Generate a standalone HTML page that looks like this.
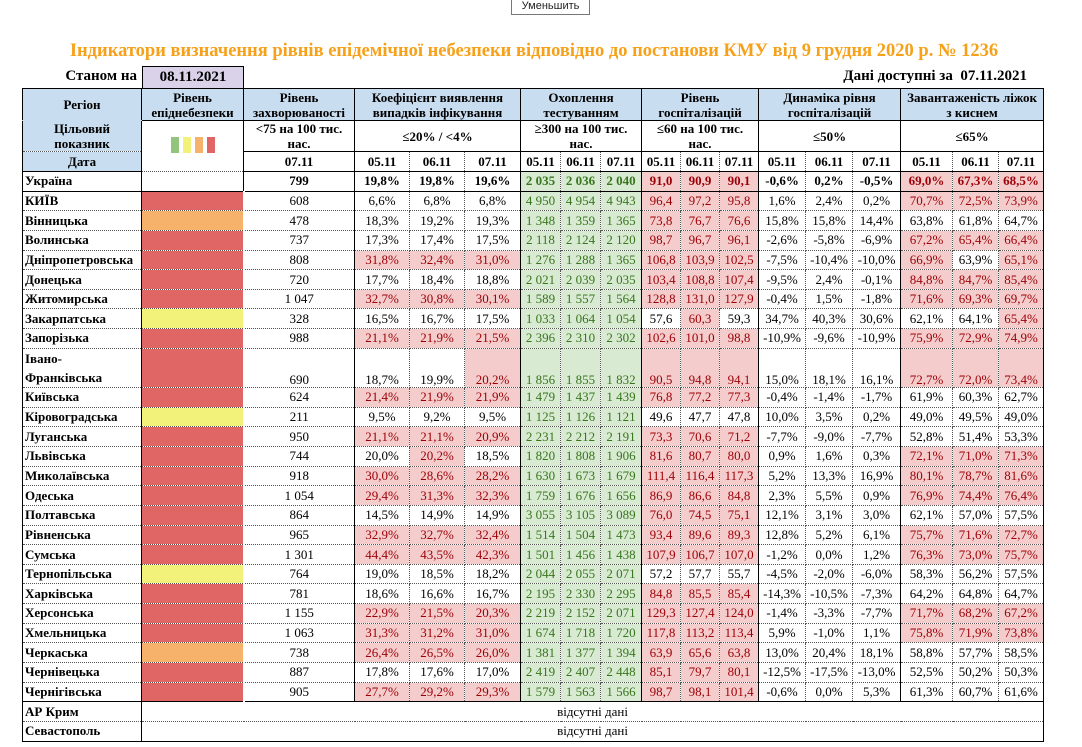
<!DOCTYPE html>
<html><head><meta charset="utf-8">
<style>
body{margin:0;width:1082px;height:747px;background:#fff;position:relative;overflow:hidden;font-family:"Liberation Serif","DejaVu Serif",serif;}
.btn{position:absolute;left:511px;top:-2px;width:77px;height:15px;border:1px solid #777;font:11px "Liberation Sans",sans-serif;text-align:center;line-height:14px;color:#222;background:#fff;}
.title{position:absolute;left:-7px;width:1082px;top:41px;text-align:center;color:#f7a11a;font-weight:bold;font-size:18.5px;}
.st{position:absolute;left:40px;top:68px;width:97px;text-align:right;font-weight:bold;font-size:15px;}
.dt{position:absolute;left:142px;top:66px;width:100px;height:21px;background:#d9d2e9;border:1px solid #000;border-bottom:none;text-align:center;font-weight:bold;font-size:15px;line-height:21px;}
.da{position:absolute;right:55px;top:68px;font-weight:bold;font-size:15px;}
table{position:absolute;left:22px;top:88px;border-collapse:collapse;table-layout:fixed;width:1021px;}
td{padding:0;text-align:center;font-size:13px;border:1px dotted #555;overflow:hidden;white-space:nowrap;line-height:14px;}
tr.d td{height:18.65px;}
td.h{background:#c9ddf0;font-weight:bold;font-size:13px;white-space:normal;line-height:15px;}
td.w{font-weight:bold;font-size:13px;white-space:normal;line-height:15px;}
td.n{text-align:left;font-weight:bold;font-size:13px;padding-left:2px;border-left:1px solid #000;border-right:1px solid #000;}
.L{border-left:1px solid #000!important;}
.R{border-right:1px solid #000!important;}
.T{border-top:1px solid #000!important;}
.B{border-bottom:1px solid #000!important;}
.NB{border-bottom:1px solid #c9ddf0!important;}
td.r{background:#f4cccc;color:#9c0006;}
td.g{background:#d9ead3;color:#38761d;}
td.lr{background:#e06666;border-left:1px solid #000;border-right:2px solid #fff;}
td.lo{background:#f6b26b;border-left:1px solid #000;border-right:2px solid #fff;}
td.ly{background:#f2f27a;border-left:1px solid #000;border-right:2px solid #fff;}
tr.u td{font-weight:bold;}
tr.iv td{vertical-align:bottom;}
.sw{display:inline-block;width:8px;height:16px;margin:0 2px;}
</style></head><body>
<div class="btn">Уменьшить</div>
<div class="title">Індикатори визначення рівнів епідемічної небезпеки відповідно до постанови КМУ від 9 грудня 2020 р. № 1236</div>
<div class="st">Станом на</div>
<div class="dt">08.11.2021</div>
<div class="da">Дані доступні за&nbsp; 07.11.2021</div>
<table>
<colgroup><col style="width:119px"><col style="width:102px"><col style="width:111px"><col style="width:55px"><col style="width:55px"><col style="width:56px"><col style="width:40px"><col style="width:40px"><col style="width:41px"><col style="width:39px"><col style="width:39px"><col style="width:39px"><col style="width:47px"><col style="width:47px"><col style="width:48px"><col style="width:52px"><col style="width:46px"><col style="width:45px"></colgroup>
<tr style="height:32px"><td class="h T L R NB">Регіон</td><td class="h T R">Рівень<br>епіднебезпеки</td><td class="h T R">Рівень<br>захворюваності</td><td class="h T R B" colspan="3">Коефіцієнт виявлення<br>випадків інфікування</td><td class="h T R B" colspan="3">Охоплення<br>тестуванням</td><td class="h T R B" colspan="3">Рівень<br>госпіталізацій</td><td class="h T R B" colspan="3">Динаміка рівня<br>госпіталізацій</td><td class="h T R B" colspan="3">Завантаженість ліжок<br>з киснем</td></tr>
<tr style="height:31px"><td class="h L R">Цільовий<br>показник</td><td class="R" rowspan="2" style="border-top:1px solid #000"><span class="sw" style="background:#93c47d"></span><span class="sw" style="background:#f2f27a"></span><span class="sw" style="background:#f6b26b"></span><span class="sw" style="background:#e06666"></span></td><td class="w R T">&lt;75 на 100 тис.<br>нас.</td><td class="w R B" colspan="3">≤20% / &lt;4%</td><td class="w R B" colspan="3">≥300 на 100 тис.<br>нас.</td><td class="w R B" colspan="3">≤60 на 100 тис.<br>нас.</td><td class="w R B" colspan="3">≤50%</td><td class="w R B" colspan="3">≤65%</td></tr>
<tr style="height:20px"><td class="h L R B">Дата</td><td class="w R B T">07.11</td><td class="w B L">05.11</td><td class="w B">06.11</td><td class="w B R">07.11</td><td class="w B">05.11</td><td class="w B">06.11</td><td class="w B R">07.11</td><td class="w B">05.11</td><td class="w B">06.11</td><td class="w B R">07.11</td><td class="w B">05.11</td><td class="w B">06.11</td><td class="w B R">07.11</td><td class="w B">05.11</td><td class="w B">06.11</td><td class="w B R">07.11</td></tr>
<tr class="d u"><td class="n B">Україна</td><td class="R B"></td><td class="R B">799</td><td class="B">19,8%</td><td class="B">19,8%</td><td class="R B">19,6%</td><td class="g B">2 035</td><td class="g B">2 036</td><td class="g R B">2 040</td><td class="r B">91,0</td><td class="r B">90,9</td><td class="r R B">90,1</td><td class="B">-0,6%</td><td class="B">0,2%</td><td class="R B">-0,5%</td><td class="r B">69,0%</td><td class="r B">67,3%</td><td class="r R B">68,5%</td></tr>
<tr class="d"><td class="n">КИЇВ</td><td class="lr"></td><td class="R">608</td><td>6,6%</td><td>6,8%</td><td class="R">6,8%</td><td class="g">4 950</td><td class="g">4 954</td><td class="g R">4 943</td><td class="r">96,4</td><td class="r">97,2</td><td class="r R">95,8</td><td>1,6%</td><td>2,4%</td><td class="R">0,2%</td><td class="r">70,7%</td><td class="r">72,5%</td><td class="r R">73,9%</td></tr>
<tr class="d"><td class="n">Вінницька</td><td class="lo"></td><td class="R">478</td><td>18,3%</td><td>19,2%</td><td class="R">19,3%</td><td class="g">1 348</td><td class="g">1 359</td><td class="g R">1 365</td><td class="r">73,8</td><td class="r">76,7</td><td class="r R">76,6</td><td>15,8%</td><td>15,8%</td><td class="R">14,4%</td><td>63,8%</td><td>61,8%</td><td class="R">64,7%</td></tr>
<tr class="d"><td class="n">Волинська</td><td class="lr"></td><td class="R">737</td><td>17,3%</td><td>17,4%</td><td class="R">17,5%</td><td class="g">2 118</td><td class="g">2 124</td><td class="g R">2 120</td><td class="r">98,7</td><td class="r">96,7</td><td class="r R">96,1</td><td>-2,6%</td><td>-5,8%</td><td class="R">-6,9%</td><td class="r">67,2%</td><td class="r">65,4%</td><td class="r R">66,4%</td></tr>
<tr class="d"><td class="n">Дніпропетровська</td><td class="lr"></td><td class="R">808</td><td class="r">31,8%</td><td class="r">32,4%</td><td class="r R">31,0%</td><td class="g">1 276</td><td class="g">1 288</td><td class="g R">1 365</td><td class="r">106,8</td><td class="r">103,9</td><td class="r R">102,5</td><td>-7,5%</td><td>-10,4%</td><td class="R">-10,0%</td><td class="r">66,9%</td><td>63,9%</td><td class="r R">65,1%</td></tr>
<tr class="d"><td class="n">Донецька</td><td class="lr"></td><td class="R">720</td><td>17,7%</td><td>18,4%</td><td class="R">18,8%</td><td class="g">2 021</td><td class="g">2 039</td><td class="g R">2 035</td><td class="r">103,4</td><td class="r">108,8</td><td class="r R">107,4</td><td>-9,5%</td><td>2,4%</td><td class="R">-0,1%</td><td class="r">84,8%</td><td class="r">84,7%</td><td class="r R">85,4%</td></tr>
<tr class="d"><td class="n">Житомирська</td><td class="lr"></td><td class="R">1 047</td><td class="r">32,7%</td><td class="r">30,8%</td><td class="r R">30,1%</td><td class="g">1 589</td><td class="g">1 557</td><td class="g R">1 564</td><td class="r">128,8</td><td class="r">131,0</td><td class="r R">127,9</td><td>-0,4%</td><td>1,5%</td><td class="R">-1,8%</td><td class="r">71,6%</td><td class="r">69,3%</td><td class="r R">69,7%</td></tr>
<tr class="d"><td class="n">Закарпатська</td><td class="ly"></td><td class="R">328</td><td>16,5%</td><td>16,7%</td><td class="R">17,5%</td><td class="g">1 033</td><td class="g">1 064</td><td class="g R">1 054</td><td>57,6</td><td class="r">60,3</td><td class="R">59,3</td><td>34,7%</td><td>40,3%</td><td class="R">30,6%</td><td>62,1%</td><td>64,1%</td><td class="r R">65,4%</td></tr>
<tr class="d"><td class="n">Запорізька</td><td class="lr"></td><td class="R">988</td><td class="r">21,1%</td><td class="r">21,9%</td><td class="r R">21,5%</td><td class="g">2 396</td><td class="g">2 310</td><td class="g R">2 302</td><td class="r">102,6</td><td class="r">101,0</td><td class="r R">98,8</td><td>-10,9%</td><td>-9,6%</td><td class="R">-10,9%</td><td class="r">75,9%</td><td class="r">72,9%</td><td class="r R">74,9%</td></tr>
<tr class="d iv" style="height:39.3px"><td class="n" style="line-height:19px">Івано-<br>Франківська</td><td class="lr"></td><td class="R">690</td><td>18,7%</td><td>19,9%</td><td class="r R">20,2%</td><td class="g">1 856</td><td class="g">1 855</td><td class="g R">1 832</td><td class="r">90,5</td><td class="r">94,8</td><td class="r R">94,1</td><td>15,0%</td><td>18,1%</td><td class="R">16,1%</td><td class="r">72,7%</td><td class="r">72,0%</td><td class="r R">73,4%</td></tr>
<tr class="d"><td class="n">Київська</td><td class="lr"></td><td class="R">624</td><td class="r">21,4%</td><td class="r">21,9%</td><td class="r R">21,9%</td><td class="g">1 479</td><td class="g">1 437</td><td class="g R">1 439</td><td class="r">76,8</td><td class="r">77,2</td><td class="r R">77,3</td><td>-0,4%</td><td>-1,4%</td><td class="R">-1,7%</td><td>61,9%</td><td>60,3%</td><td class="R">62,7%</td></tr>
<tr class="d"><td class="n">Кіровоградська</td><td class="ly"></td><td class="R">211</td><td>9,5%</td><td>9,2%</td><td class="R">9,5%</td><td class="g">1 125</td><td class="g">1 126</td><td class="g R">1 121</td><td>49,6</td><td>47,7</td><td class="R">47,8</td><td>10,0%</td><td>3,5%</td><td class="R">0,2%</td><td>49,0%</td><td>49,5%</td><td class="R">49,0%</td></tr>
<tr class="d"><td class="n">Луганська</td><td class="lr"></td><td class="R">950</td><td class="r">21,1%</td><td class="r">21,1%</td><td class="r R">20,9%</td><td class="g">2 231</td><td class="g">2 212</td><td class="g R">2 191</td><td class="r">73,3</td><td class="r">70,6</td><td class="r R">71,2</td><td>-7,7%</td><td>-9,0%</td><td class="R">-7,7%</td><td>52,8%</td><td>51,4%</td><td class="R">53,3%</td></tr>
<tr class="d"><td class="n">Львівська</td><td class="lr"></td><td class="R">744</td><td>20,0%</td><td class="r">20,2%</td><td class="R">18,5%</td><td class="g">1 820</td><td class="g">1 808</td><td class="g R">1 906</td><td class="r">81,6</td><td class="r">80,7</td><td class="r R">80,0</td><td>0,9%</td><td>1,6%</td><td class="R">0,3%</td><td class="r">72,1%</td><td class="r">71,0%</td><td class="r R">71,3%</td></tr>
<tr class="d"><td class="n">Миколаївська</td><td class="lr"></td><td class="R">918</td><td class="r">30,0%</td><td class="r">28,6%</td><td class="r R">28,2%</td><td class="g">1 630</td><td class="g">1 673</td><td class="g R">1 679</td><td class="r">111,4</td><td class="r">116,4</td><td class="r R">117,3</td><td>5,2%</td><td>13,3%</td><td class="R">16,9%</td><td class="r">80,1%</td><td class="r">78,7%</td><td class="r R">81,6%</td></tr>
<tr class="d"><td class="n">Одеська</td><td class="lr"></td><td class="R">1 054</td><td class="r">29,4%</td><td class="r">31,3%</td><td class="r R">32,3%</td><td class="g">1 759</td><td class="g">1 676</td><td class="g R">1 656</td><td class="r">86,9</td><td class="r">86,6</td><td class="r R">84,8</td><td>2,3%</td><td>5,5%</td><td class="R">0,9%</td><td class="r">76,9%</td><td class="r">74,4%</td><td class="r R">76,4%</td></tr>
<tr class="d"><td class="n">Полтавська</td><td class="lr"></td><td class="R">864</td><td>14,5%</td><td>14,9%</td><td class="R">14,9%</td><td class="g">3 055</td><td class="g">3 105</td><td class="g R">3 089</td><td class="r">76,0</td><td class="r">74,5</td><td class="r R">75,1</td><td>12,1%</td><td>3,1%</td><td class="R">3,0%</td><td>62,1%</td><td>57,0%</td><td class="R">57,5%</td></tr>
<tr class="d"><td class="n">Рівненська</td><td class="lr"></td><td class="R">965</td><td class="r">32,9%</td><td class="r">32,7%</td><td class="r R">32,4%</td><td class="g">1 514</td><td class="g">1 504</td><td class="g R">1 473</td><td class="r">93,4</td><td class="r">89,6</td><td class="r R">89,3</td><td>12,8%</td><td>5,2%</td><td class="R">6,1%</td><td class="r">75,7%</td><td class="r">71,6%</td><td class="r R">72,7%</td></tr>
<tr class="d"><td class="n">Сумська</td><td class="lr"></td><td class="R">1 301</td><td class="r">44,4%</td><td class="r">43,5%</td><td class="r R">42,3%</td><td class="g">1 501</td><td class="g">1 456</td><td class="g R">1 438</td><td class="r">107,9</td><td class="r">106,7</td><td class="r R">107,0</td><td>-1,2%</td><td>0,0%</td><td class="R">1,2%</td><td class="r">76,3%</td><td class="r">73,0%</td><td class="r R">75,7%</td></tr>
<tr class="d"><td class="n">Тернопільська</td><td class="ly"></td><td class="R">764</td><td>19,0%</td><td>18,5%</td><td class="R">18,2%</td><td class="g">2 044</td><td class="g">2 055</td><td class="g R">2 071</td><td>57,2</td><td>57,7</td><td class="R">55,7</td><td>-4,5%</td><td>-2,0%</td><td class="R">-6,0%</td><td>58,3%</td><td>56,2%</td><td class="R">57,5%</td></tr>
<tr class="d"><td class="n">Харківська</td><td class="lr"></td><td class="R">781</td><td>18,6%</td><td>16,6%</td><td class="R">16,7%</td><td class="g">2 195</td><td class="g">2 330</td><td class="g R">2 295</td><td class="r">84,8</td><td class="r">85,5</td><td class="r R">85,4</td><td>-14,3%</td><td>-10,5%</td><td class="R">-7,3%</td><td>64,2%</td><td>64,8%</td><td class="R">64,7%</td></tr>
<tr class="d"><td class="n">Херсонська</td><td class="lr"></td><td class="R">1 155</td><td class="r">22,9%</td><td class="r">21,5%</td><td class="r R">20,3%</td><td class="g">2 219</td><td class="g">2 152</td><td class="g R">2 071</td><td class="r">129,3</td><td class="r">127,4</td><td class="r R">124,0</td><td>-1,4%</td><td>-3,3%</td><td class="R">-7,7%</td><td class="r">71,7%</td><td class="r">68,2%</td><td class="r R">67,2%</td></tr>
<tr class="d"><td class="n">Хмельницька</td><td class="lr"></td><td class="R">1 063</td><td class="r">31,3%</td><td class="r">31,2%</td><td class="r R">31,0%</td><td class="g">1 674</td><td class="g">1 718</td><td class="g R">1 720</td><td class="r">117,8</td><td class="r">113,2</td><td class="r R">113,4</td><td>5,9%</td><td>-1,0%</td><td class="R">1,1%</td><td class="r">75,8%</td><td class="r">71,9%</td><td class="r R">73,8%</td></tr>
<tr class="d"><td class="n">Черкаська</td><td class="lo"></td><td class="R">738</td><td class="r">26,4%</td><td class="r">26,5%</td><td class="r R">26,0%</td><td class="g">1 381</td><td class="g">1 377</td><td class="g R">1 394</td><td class="r">63,9</td><td class="r">65,6</td><td class="r R">63,8</td><td>13,0%</td><td>20,4%</td><td class="R">18,1%</td><td>58,8%</td><td>57,7%</td><td class="R">58,5%</td></tr>
<tr class="d"><td class="n">Чернівецька</td><td class="lr"></td><td class="R">887</td><td>17,8%</td><td>17,6%</td><td class="R">17,0%</td><td class="g">2 419</td><td class="g">2 407</td><td class="g R">2 448</td><td class="r">85,1</td><td class="r">79,7</td><td class="r R">80,1</td><td>-12,5%</td><td>-17,5%</td><td class="R">-13,0%</td><td>52,5%</td><td>50,2%</td><td class="R">50,3%</td></tr>
<tr class="d"><td class="n B">Чернігівська</td><td class="lr B"></td><td class="R B">905</td><td class="r B">27,7%</td><td class="r B">29,2%</td><td class="r R B">29,3%</td><td class="g B">1 579</td><td class="g B">1 563</td><td class="g R B">1 566</td><td class="r B">98,7</td><td class="r B">98,1</td><td class="r R B">101,4</td><td class="B">-0,6%</td><td class="B">0,0%</td><td class="R B">5,3%</td><td class="B">61,3%</td><td class="B">60,7%</td><td class="R B">61,6%</td></tr>
<tr class="d"><td class="n">АР Крим</td><td class="R" colspan="17">відсутні дані</td></tr>
<tr class="d"><td class="n B">Севастополь</td><td class="R B" colspan="17">відсутні дані</td></tr>
</table>
</body></html>
